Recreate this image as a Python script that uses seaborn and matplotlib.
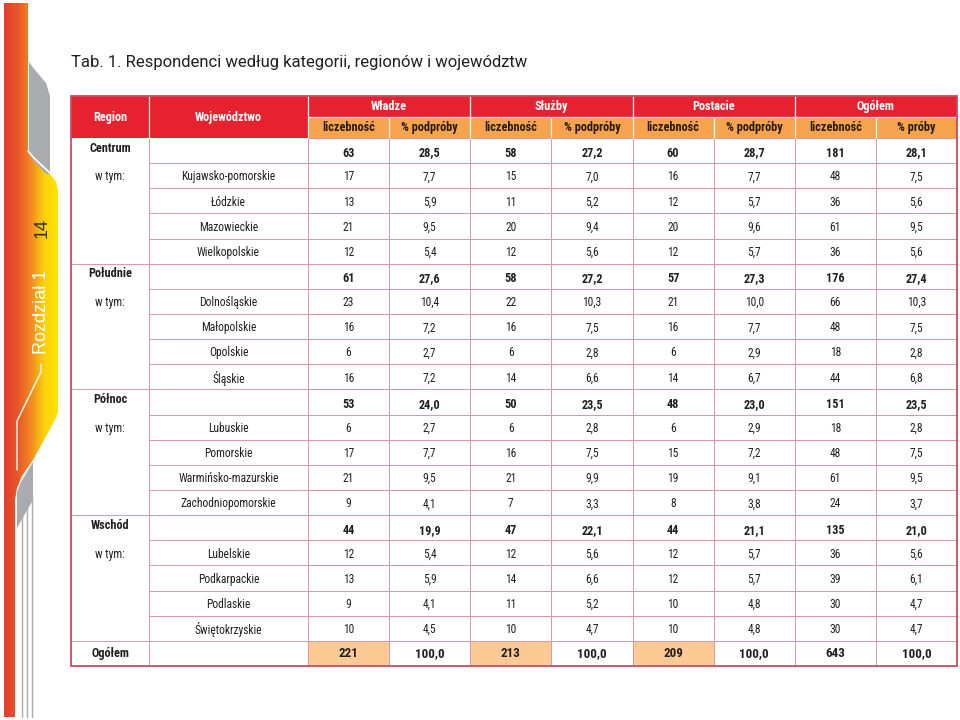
import numpy as np
import matplotlib
matplotlib.use("Agg")
import matplotlib.pyplot as plt
import seaborn as sns
from matplotlib import font_manager as fm
from matplotlib.colors import ListedColormap, LinearSegmentedColormap
from matplotlib.patches import Rectangle, Polygon

# ---------------- data ----------------
title = "Tab. 1. Respondenci według kategorii, regionów i województw"
regions = ["Centrum", "Południe", "Północ", "Wschód"]
voivodeships = [
    ["Kujawsko-pomorskie", "Łódzkie", "Mazowieckie", "Wielkopolskie"],
    ["Dolnośląskie", "Małopolskie", "Opolskie", "Śląskie"],
    ["Lubuskie", "Pomorskie", "Warmińsko-mazurskie", "Zachodniopomorskie"],
    ["Lubelskie", "Podkarpackie", "Podlaskie", "Świętokrzyskie"],
]
total_label = "Ogółem"
sub_label = "w tym:"
col_region = "Region"
col_voiv = "Województwo"
groups = ["Władze", "Służby", "Postacie", "Ogółem"]
subheaders = ["liczebność", "% podpróby", "liczebność", "% podpróby",
              "liczebność", "% podpróby", "liczebność", "% próby"]

wladze_n = [63, 17, 13, 21, 12, 61, 23, 16, 6, 16, 53, 6, 17, 21, 9, 44, 12, 13, 9, 10, 221]
wladze_pct = [28.5, 7.7, 5.9, 9.5, 5.4, 27.6, 10.4, 7.2, 2.7, 7.2, 24.0, 2.7, 7.7, 9.5, 4.1,
              19.9, 5.4, 5.9, 4.1, 4.5, 100.0]
sluzby_n = [58, 15, 11, 20, 12, 58, 22, 16, 6, 14, 50, 6, 16, 21, 7, 47, 12, 14, 11, 10, 213]
sluzby_pct = [27.2, 7.0, 5.2, 9.4, 5.6, 27.2, 10.3, 7.5, 2.8, 6.6, 23.5, 2.8, 7.5, 9.9, 3.3,
              22.1, 5.6, 6.6, 5.2, 4.7, 100.0]
postacie_n = [60, 16, 12, 20, 12, 57, 21, 16, 6, 14, 48, 6, 15, 19, 8, 44, 12, 12, 10, 10, 209]
postacie_pct = [28.7, 7.7, 5.7, 9.6, 5.7, 27.3, 10.0, 7.7, 2.9, 6.7, 23.0, 2.9, 7.2, 9.1, 3.8,
                21.1, 5.7, 5.7, 4.8, 4.8, 100.0]
ogolem_n = [181, 48, 36, 61, 36, 176, 66, 48, 18, 44, 151, 18, 48, 61, 24, 135, 36, 39, 30, 30, 643]
ogolem_pct = [28.1, 7.5, 5.6, 9.5, 5.6, 27.4, 10.3, 7.5, 2.8, 6.8, 23.5, 2.8, 7.5, 9.5, 3.7,
              21.0, 5.6, 6.1, 4.7, 4.7, 100.0]

# ---------------- fonts ----------------
sns.set_theme(style="white")
entries = fm.fontManager.ttflist
names = {f.name for f in entries}
NARROW_FAMILY, NARROW_STRETCH = None, "normal"
for cand in ["Liberation Sans Narrow", "Roboto Condensed", "Noto Sans Condensed",
             "Open Sans Condensed", "Noto Sans Display Condensed", "DejaVu Sans Condensed"]:
    if cand in names:
        NARROW_FAMILY = cand
        break
if NARROW_FAMILY is None:
    for fam in ["Noto Sans", "Roboto", "Open Sans", "DejaVu Sans"]:
        if any(f.name == fam and f.stretch in ("condensed", "semi-condensed", "extra-condensed")
               for f in entries):
            NARROW_FAMILY, NARROW_STRETCH = fam, "condensed"
            break
if NARROW_FAMILY is None:
    NARROW_FAMILY = "Roboto"
NARROW = [NARROW_FAMILY, "DejaVu Sans"]
TITLEF = ["Roboto", "DejaVu Sans"]
plt.rcParams["font.family"] = NARROW
plt.rcParams["font.stretch"] = NARROW_STRETCH

# ---------------- styling ----------------
RED = "#e62230"
ORANGE = "#f6a34d"
PEACH = "#fdca95"
GRID = "#dc98a6"
BORDER = "#c64d62"
TXT = "#231f20"
BODY_FS = 8.3
BOLD_FS = 8.8

fig = plt.figure(figsize=(9.6, 7.2), dpi=100)

# ---------------- decorative left band (pixel coordinates) ----------------
bg = fig.add_axes([0, 0, 1, 1], zorder=0)
bg.set_xlim(0, 960)
bg.set_ylim(720, 0)
bg.axis("off")
gray = "#a9abae"
bg.add_patch(Polygon([(29, 62), (35, 70), (46, 83), (50, 96), (50, 174), (46, 174), (34, 161), (29, 154)],
                     closed=True, fc=gray, ec="none"))
bg.add_patch(Polygon([(33, 462), (33, 500), (17, 528), (17, 492), (21, 482)],
                     closed=True, fc=gray, ec="none"))
for gx in (22, 27, 32):
    bg.plot([gx, gx], [495, 717], color=gray, lw=1.0)
grad_shape = Polygon([(4, 3), (28, 3), (28, 150), (34, 157), (50, 172), (55, 178), (58, 190),
                      (58, 412), (55, 420), (33, 460), (22, 476), (17, 488), (15, 500),
                      (15, 717), (4, 717)], closed=True, fc="none", ec="none")
bg.add_patch(grad_shape)
gcmap = LinearSegmentedColormap.from_list("g", ["#e33b2c", "#e9552a", "#f28a20", "#fcd20c", "#ffe400"])
grad = np.linspace(0, 1, 256).reshape(1, -1)
im = bg.imshow(grad, cmap=gcmap, extent=(4, 58, 717, 3), aspect="auto", interpolation="bilinear")
im.set_clip_path(grad_shape)
bg.plot([28, 34, 50, 56], [151, 158, 173, 180], color="white", lw=1.2)
bg.plot([41, 41, 17, 17], [364, 372, 421, 470], color="white", lw=1.0)
bg.text(42, 228, "14", rotation=90, ha="center", va="center", fontsize=13,
        color="#333333", family=["Liberation Sans", "DejaVu Sans"], fontstretch="normal")
bg.text(42, 312, "Rozdział 1", rotation=90, ha="center", va="center", fontsize=13,
        color="white", family=["Liberation Sans", "DejaVu Sans"], fontstretch="normal")

# ---------------- title ----------------
fig.text(71 / 960, 1 - 63 / 720, title, fontsize=12, color=TXT, va="center", ha="left",
         family=TITLEF, fontstretch="normal")

# ---------------- table ----------------
cols = [wladze_n, wladze_pct, sluzby_n, sluzby_pct, postacie_n, postacie_pct, ogolem_n, ogolem_pct]
nrows = len(wladze_n)
ncols = len(cols)
text = np.empty((nrows, ncols), dtype=object)
for j, c in enumerate(cols):
    for i, v in enumerate(c):
        text[i, j] = f"{v:.1f}".replace(".", ",") if j % 2 else f"{int(v)}"
highlight = np.zeros((nrows, ncols))
highlight[nrows - 1, [0, 2, 4]] = 1

region_rows = [0, 5, 10, 15]
bold_rows = set(region_rows + [nrows - 1])

# pixel geometry -> data units
px_left, px_right, px_top, px_bottom = 71, 957, 96, 666
px_data0, px_voiv0, px_head_mid = 308, 149, 117
colw = (px_right - px_data0) / ncols
rowh = (px_bottom - 138) / nrows
X0 = (px_left - px_data0) / colw
X1 = (px_voiv0 - px_data0) / colw
H0 = (px_top - 138) / rowh
HM = (px_head_mid - 138) / rowh

ax = fig.add_axes([px_left / 960, 1 - px_bottom / 720, (px_right - px_left) / 960,
                   (px_bottom - px_top) / 720], zorder=2)
sns.heatmap(highlight, ax=ax, cmap=ListedColormap(["#ffffff", PEACH]), vmin=0, vmax=1,
            cbar=False, annot=text, fmt="", annot_kws=dict(fontsize=BODY_FS, color=TXT),
            linewidths=0.7, linecolor=GRID, xticklabels=False, yticklabels=False)
for t in ax.texts:
    x, y = t.get_position()
    r = int(y)
    if r in bold_rows:
        t.set_fontweight("bold")
        t.set_fontsize(BOLD_FS + (0.6 if r == nrows - 1 else 0))
        if r != nrows - 1:
            t.set_y(y + 0.1)
    else:
        t.set_y(y + 0.05)
    t.set_color(TXT)
    t.set_family(NARROW)
    t.set_fontstretch(NARROW_STRETCH)

ax.set_xlim(X0, ncols)
ax.set_ylim(nrows, H0)
ax.axis("off")

# header backgrounds
ax.add_patch(Rectangle((X0, H0), ncols - X0, -H0, fc=RED, ec="none", clip_on=False, zorder=1))
ax.add_patch(Rectangle((0, HM), ncols, -HM, fc=ORANGE, ec="none", clip_on=False, zorder=1))
ax.vlines([X1] + [0, 2, 4, 6], H0, 0, colors="white", lw=0.9, zorder=2)
ax.vlines([1, 3, 5, 7], HM, 0, colors="white", lw=0.9, zorder=2)
ax.hlines([HM], 0, ncols, colors="white", lw=0.9, zorder=2)

hdr = dict(ha="center", va="center", fontweight="bold", fontsize=BOLD_FS, family=NARROW,
           fontstretch=NARROW_STRETCH, zorder=3)
ax.text((X0 + X1) / 2, H0 / 2, col_region, color="white", **hdr)
ax.text(X1 / 2, H0 / 2, col_voiv, color="white", **hdr)
for g, name in enumerate(groups):
    ax.text(2 * g + 1, (H0 + HM) / 2, name, color="white", **hdr)
for j, name in enumerate(subheaders):
    ax.text(j + 0.5, HM / 2, name, color="#2a1a12", **hdr)

# label columns: lines
ax.add_patch(Rectangle((X0, 0), -X0, nrows, fc="white", ec="none", zorder=0.5))
ax.hlines(range(1, nrows), X1, 0, colors=GRID, lw=0.7, zorder=2)
ax.hlines([5, 10, 15, 20], X0, X1, colors=GRID, lw=0.7, zorder=2)
ax.vlines([X1, 0], 0, nrows, colors=GRID, lw=0.7, zorder=2)
ax.add_patch(Rectangle((X0, H0), ncols - X0, nrows - H0, fill=False, ec=BORDER, lw=1.3,
                       clip_on=False, zorder=4))

# label column texts
lab = dict(ha="center", va="center", color=TXT, family=NARROW, fontstretch=NARROW_STRETCH)
for k, (reg, vs) in enumerate(zip(regions, voivodeships)):
    r0 = region_rows[k]
    ax.text((X0 + X1) / 2, r0 + 0.4, reg, fontsize=BOLD_FS, fontweight="bold", **lab)
    ax.text((X0 + X1) / 2, r0 + 1.55, sub_label, fontsize=BODY_FS, **lab)
    for m, v in enumerate(vs):
        ax.text(X1 / 2, r0 + 1 + m + 0.55, v, fontsize=BODY_FS, **lab)
ax.text((X0 + X1) / 2, nrows - 0.5, total_label, fontsize=BOLD_FS, fontweight="bold", **lab)

fig.savefig("out.png", dpi=100, facecolor="white")
